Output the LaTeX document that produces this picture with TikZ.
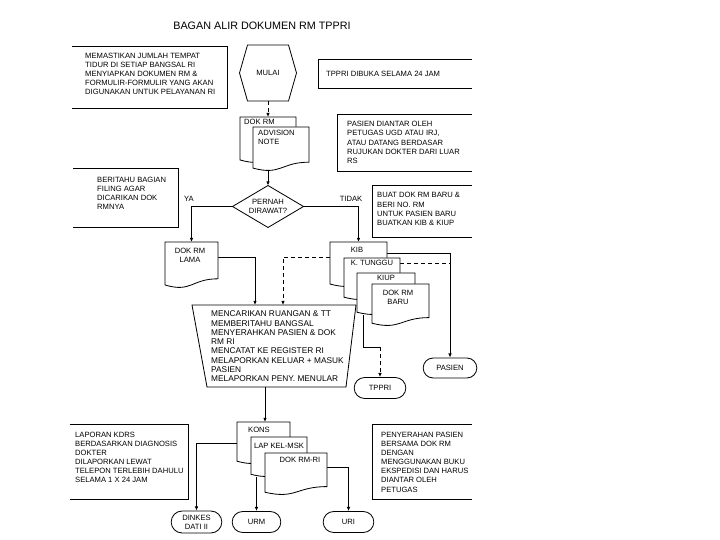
\documentclass[tikz,border=0pt]{standalone}
\usepackage{fontspec}
\setmainfont{Liberation Sans}
\usetikzlibrary{arrows.meta,calc,backgrounds,shapes.misc}
\newcommand\PX[1]{#1*0.03cm}
\newcommand\fta{\fontsize{6.5}{7.8}\selectfont}
\newcommand\ftb{\fontsize{7.1}{7.9}\selectfont}
% document shape: name, x1, y1, x2, height
\newcommand\mydoc[5]{%
  \filldraw[fill=white,ln] (#2,#3) -- (#4,#3) -- (#4,{#3+0.80*#5})
    .. controls ({(#2+#4)/2},{#3+0.80*#5}) and ({(#2+#4)/2},{#3+1.107*#5}) .. (#2,{#3+0.934*#5}) -- cycle;
  \node[sbox, anchor=north west, minimum width=\PX{(#4-#2)}, minimum height=\PX{#5}] (#1) at (#2,#3) {};
}
\begin{document}
\begin{tikzpicture}[x=0.03cm,y=-0.03cm,
  ln/.style={line width=0.7pt},
  arr/.style={ln,-{Latex[length=3.5pt,width=3pt]}},
  sbox/.style={draw=none,inner sep=0pt,outer sep=0pt},
  txt/.style={font=\fta,inner sep=0pt,align=left},
  term/.style={draw,ln,rounded rectangle,fill=white,inner sep=1pt,font=\fta,align=center}]
\useasboundingbox (0,0) rectangle (720,540);

% title
\node[font=\fontsize{9.2}{11}\selectfont] (title) at (262,26) {BAGAN ALIR DOKUMEN RM TPPRI};

% box 1 (open left)
\node[sbox, minimum width=\PX{155}, minimum height=\PX{62}] (b1) at (149.5,77) {};
\draw[ln] (b1.north west) -- (b1.north east) -- (b1.south east) -- (b1.south west);
\node[txt, anchor=west] (b1t) at ($(b1.west)+(13,-3)$) {MEMASTIKAN JUMLAH TEMPAT\\TIDUR DI SETIAP BANGSAL RI\\MENYIAPKAN DOKUMEN RM \&\\FORMULIR-FORMULIR YANG AKAN\\DIGUNAKAN UNTUK PELAYANAN RI};

% MULAI hexagon
\node[sbox, minimum width=\PX{57}, minimum height=\PX{56}, font=\fta] (mulai) at (268,73) {MULAI};
\draw[ln] ($(mulai.north west)+(8,0)$) -- ($(mulai.north east)+(-8,0)$) -- (mulai.east) -- ($(mulai.south east)+(-8,0)$) -- ($(mulai.south west)+(8,0)$) -- (mulai.west) -- cycle;

% box 2 (open right)
\node[sbox, minimum width=\PX{154}, minimum height=\PX{29}] (b2) at (395,73.5) {};
\draw[ln] (b2.north east) -- (b2.north west) -- (b2.south west) -- (b2.south east);
\node[txt, anchor=west] (b2t) at ($(b2.west)+(8,0)$) {TPPRI DIBUKA SELAMA 24 JAM};

% DOK RM + ADVISION NOTE
\mydoc{dokrm}{240}{117}{296}{46}
\node[txt, anchor=west] (dokrmt) at (244,122) {DOK RM};
\mydoc{adv}{253}{127}{309}{44}
\node[txt, anchor=west] (advt) at (258,137.5) {ADVISION\\NOTE};

% box 3 (open right)
\node[sbox, minimum width=\PX{135}, minimum height=\PX{57}] (b3) at (404.5,142.5) {};
\draw[ln] (b3.north east) -- (b3.north west) -- (b3.south west) -- (b3.south east);
\node[txt, anchor=west] (b3t) at ($(b3.west)+(10,0)$) {PASIEN DIANTAR OLEH\\PETUGAS UGD ATAU IRJ,\\ATAU DATANG BERDASAR\\RUJUKAN DOKTER DARI LUAR\\RS};

% decision
\node[sbox, minimum width=\PX{71}, minimum height=\PX{42}, font=\fta, align=center] (q) at (268,206.5) {PERNAH\\DIRAWAT?};
\draw[ln] (q.north) -- (q.east) -- (q.south) -- (q.west) -- cycle;
\node[txt] (ya) at (189,199) {YA};
\node[txt] (tidak) at (351,199) {TIDAK};

% box 4 (open left)
\node[sbox, minimum width=\PX{105}, minimum height=\PX{59}] (b4) at (125.5,197.5) {};
\draw[ln] (b4.north west) -- (b4.north east) -- (b4.south east) -- (b4.south west);
\node[txt, anchor=west] (b4t) at ($(b4.west)+(24,-4)$) {BERITAHU BAGIAN\\FILING AGAR\\DICARIKAN DOK\\RMNYA};

% box 5 (open right)
\node[sbox, minimum width=\PX{100}, minimum height=\PX{52}] (b5) at (422,211) {};
\draw[ln] (b5.north east) -- (b5.north west) -- (b5.south west) -- (b5.south east);
\node[txt, anchor=west] (b5t) at ($(b5.west)+(5,-2)$) {BUAT DOK RM BARU \&\\BERI NO. RM\\UNTUK PASIEN BARU\\BUATKAN KIB \& KIUP};

% DOK RM LAMA
\mydoc{lama}{165}{242}{218}{46}
\node[txt, align=center] (lamat) at (190,255) {DOK RM\\LAMA};

% KIB stack
\mydoc{kib}{330}{242}{387}{45}
\node[txt] (kibt) at (357,250) {KIB};
\mydoc{ktg}{344}{258}{400}{42}
\node[txt] (ktgt) at (372,263) {K. TUNGGU};
\mydoc{kiup}{357}{273}{415}{42}
\node[txt] (kiupt) at (386,278) {KIUP};
\mydoc{baru}{372}{284}{429}{42}
\node[txt, align=center] (barut) at (398,297) {DOK RM\\BARU};

% process trapezoid
\node[sbox, minimum width=\PX{164}, minimum height=\PX{82}] (proc) at (274,346) {};
\draw[ln] (proc.north west) -- (proc.north east) -- ($(proc.south east)+(-10,0)$) -- ($(proc.south west)+(15,0)$) -- cycle;
\node[txt, font=\ftb, anchor=west] (proct) at (211,346.5) {MENCARIKAN RUANGAN \& TT\\MEMBERITAHU BANGSAL\\MENYERAHKAN PASIEN \& DOK\\RM RI\\MENCATAT KE REGISTER RI\\MELAPORKAN KELUAR + MASUK\\PASIEN\\MELAPORKAN PENY. MENULAR};
\coordinate (pt1) at ($(proc.north west)+(63,0)$);
\coordinate (pt2) at ($(proc.north west)+(91,0)$);
\coordinate (pb) at ($(proc.south west)+(73,0)$);

% terminals
\node[term, minimum width=\PX{56}, minimum height=\PX{20}] (pasien) at (450,368) {PASIEN};
\node[term, minimum width=\PX{54}, minimum height=\PX{21}] (tppri) at (380,388) {TPPRI};
\coordinate (j1) at (450,263);
\coordinate (k1) at (380,347);

% KONS stack
\mydoc{kons}{237}{422}{290}{42}
\node[txt] (konst) at (259,430) {KONS};
\mydoc{lapkel}{251}{437}{307}{40}
\node[txt] (lapkelt) at (279,446) {LAP KEL-MSK};
\mydoc{rmri}{265}{453}{327}{42}
\node[txt] (rmrit) at (300,460) {DOK RM-RI};

% box 6 (open left)
\node[sbox, minimum width=\PX{118}, minimum height=\PX{75}] (b6) at (129,461.5) {};
\draw[ln] (b6.north west) -- (b6.north east) -- (b6.south east) -- (b6.south west);
\node[txt, anchor=west] (b6t) at ($(b6.west)+(5,-4)$) {LAPORAN KDRS\\BERDASARKAN DIAGNOSIS\\DOKTER\\DILAPORKAN LEWAT\\TELEPON TERLEBIH DAHULU\\SELAMA 1 X 24 JAM};

% box 7 (open right)
\node[sbox, minimum width=\PX{100}, minimum height=\PX{75}] (b7) at (422,461.5) {};
\draw[ln] (b7.north east) -- (b7.north west) -- (b7.south west) -- (b7.south east);
\node[txt, anchor=west] (b7t) at ($(b7.west)+(9,0.5)$) {PENYERAHAN PASIEN\\BERSAMA DOK RM\\DENGAN\\MENGGUNAKAN BUKU\\EKSPEDISI DAN HARUS\\DIANTAR OLEH\\PETUGAS};

% bottom terminals
\node[term, minimum width=\PX{53}, minimum height=\PX{22}] (dinkes) at (196.5,522) {DINKES\\DATI II};
\node[term, minimum width=\PX{51}, minimum height=\PX{21}] (urm) at (256.5,522) {URM};
\node[term, minimum width=\PX{53}, minimum height=\PX{21}] (uri) at (348.5,522) {URI};

% connectors
\begin{scope}[on background layer]
\draw[arr, dashed] (mulai.south) -- (dokrm.north);
\draw[arr] (adv.south -| q.north) -- (q.north);
\draw[arr] (q.west) -| (lama.north);
\draw[arr] (q.east) -| (kib.north);
\draw[arr] ($(lama.east)+(0,-8)$) -| (pt1);
\draw[arr, dashed] ($(kib.west)+(0,-7.5)$) -| (pt2);
\draw[arr] ($(kib.east)+(0,-11.5)$) -| (pasien.north);
\draw[ln, dashed] ($(ktg.east)+(0,-16)$) -- (j1);
\draw[ln] ($(kiup.south west)+(6,0)$) |- (k1);
\draw[arr, dashed] (k1) -- (tppri.north);
\draw[arr] (pb) -- (pb |- kons.north);
\draw[arr] (kons.west) -| (dinkes.north);
\draw[arr] (lapkel.south -| urm.north) -- (urm.north);
\draw[arr] ($(rmri.east)+(0,-7)$) -| (uri.north);
\end{scope}
\end{tikzpicture}
\end{document}
